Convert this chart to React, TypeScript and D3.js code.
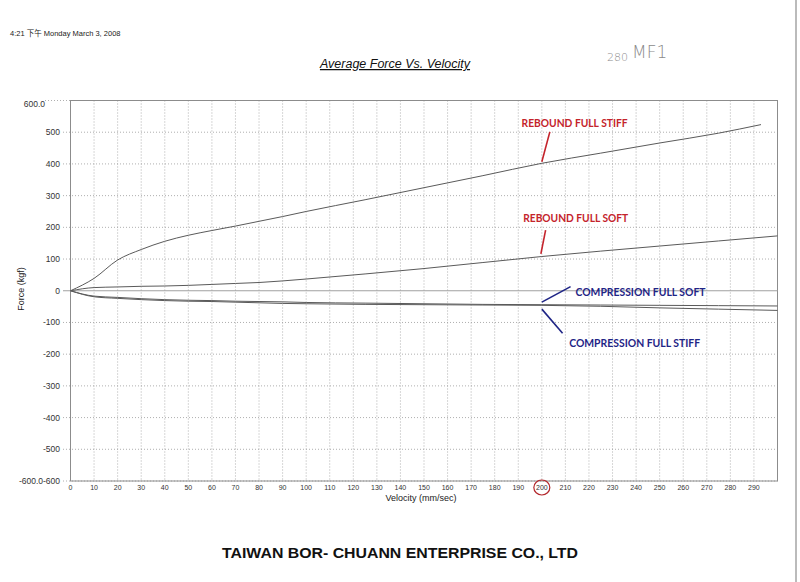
import React, { useEffect, useRef } from 'react';
import * as d3 from 'd3';

// velocity (mm/sec) sample points
const velocity = [0, 10, 20, 30, 40, 50, 60, 70, 80, 90, 100, 125, 150, 175, 200, 225, 250, 275, 300];
const velocityStiffRebound = [0, 10, 20, 30, 40, 50, 60, 70, 80, 90, 100, 125, 150, 175, 200, 225, 250, 275, 293];

// force (kgf)
const reboundFullStiff = [0, 39, 97, 130, 156, 175, 190, 204, 219, 234, 250, 287, 325, 363, 402, 434, 466, 497, 524];
const reboundFullSoft = [0, 10, 12, 14, 15, 17, 20, 23, 26, 31, 37, 53, 70, 89, 108, 125, 141, 157, 173];
const compressionFullSoft = [0, -17, -21, -25, -28, -30, -31, -33, -34, -35, -37, -39, -41, -43, -44, -45, -46, -47, -48];
const compressionFullStiff = [0, -19, -24, -28, -31, -33, -34, -36, -38, -40, -41, -43, -44, -45, -46, -49, -54, -58, -62];

const xTicks = d3.range(0, 300, 10);
const yTicks = [-500, -400, -300, -200, -100, 0, 100, 200, 300, 400, 500];

const RED = '#c4232b';
const BLUE = '#1f2586';

// annotation labels, in data units
const annotations = [
  { text: 'REBOUND FULL STIFF', color: RED, tx: 191.4, ty: 518, len: 106, line: [[200, 407], [203.4, 501]] },
  { text: 'REBOUND FULL SOFT', color: RED, tx: 192.1, ty: 218, len: 105, line: [[199.6, 116], [201.6, 191]] },
  { text: 'COMPRESSION FULL SOFT', color: BLUE, tx: 214.3, ty: -17.5, len: 130, line: [[200, -36], [212.2, 13]] },
  { text: 'COMPRESSION FULL STIFF', color: BLUE, tx: 211.6, ty: -176, len: 131, line: [[200, -58], [208.8, -134]] },
];

const App: React.FC = () => {
  const svgRef = useRef<SVGSVGElement>(null);

  useEffect(() => {
    if (!svgRef.current) return;
    const svg = d3.select(svgRef.current);
    svg.selectAll('*').remove();

    const width = 800;
    const height = 582;
    const x = d3.scaleLinear().domain([0, 300]).range([70.5, 777.5]);
    const y = d3.scaleLinear().domain([-600, 600]).range([481, 100.5]);

    svg.append('rect').attr('width', width).attr('height', height).attr('fill', '#fff');

    // 扫描边缘
    svg.append('line')
      .attr('x1', 796).attr('x2', 796).attr('y1', 0).attr('y2', height)
      .attr('stroke', '#bbb').attr('stroke-width', 2);

    // header
    svg.append('text')
      .attr('x', 10).attr('y', 36)
      .attr('font-family', 'Liberation Sans, "Noto Sans CJK SC", sans-serif')
      .attr('font-size', 7.5)
      .attr('fill', '#222')
      .text('4:21 下午 Monday March 3, 2008');

    svg.append('text')
      .attr('x', 395).attr('y', 68)
      .attr('text-anchor', 'middle')
      .attr('font-family', 'Liberation Sans, Arial, sans-serif')
      .attr('font-size', 12.5)
      .attr('font-style', 'italic')
      .attr('text-decoration', 'underline')
      .attr('fill', '#111')
      .text('Average Force Vs. Velocity');

    const hand = svg.append('text')
      .attr('x', 607).attr('y', 61)
      .attr('font-family', 'DejaVu Sans, sans-serif')
      .attr('font-weight', 200)
      .attr('fill', '#8a8a8a');
    hand.append('tspan').attr('font-size', 11).text('280');
    hand.append('tspan').attr('font-size', 17).attr('dx', 4).attr('dy', -3).text('MF1');

    // grid
    const grid = svg.append('g').attr('stroke', '#9a9a9a').attr('stroke-width', 0.8).attr('stroke-dasharray', '1,2');
    grid.selectAll('line.v')
      .data(xTicks.filter(d => d > 0))
      .enter().append('line')
      .attr('x1', d => x(d)).attr('x2', d => x(d))
      .attr('y1', y(600)).attr('y2', y(-600));
    grid.selectAll('line.h')
      .data(yTicks.filter(d => d !== 0).concat([600, -600]))
      .enter().append('line')
      .attr('x1', d => (d === 600 ? 45 : 63)).attr('x2', x(300))
      .attr('y1', d => y(d)).attr('y2', d => y(d));

    // frame + zero line
    const frame = svg.append('g').attr('stroke', '#8c8c8c').attr('stroke-width', 1).attr('fill', 'none');
    frame.append('rect')
      .attr('x', x(0)).attr('y', y(600))
      .attr('width', x(300) - x(0)).attr('height', y(-600) - y(600));
    frame.append('line')
      .attr('x1', 63).attr('x2', x(300)).attr('y1', y(0)).attr('y2', y(0))
      .attr('stroke', '#a0a0a0');

    // y tick labels
    const labelFont = 'Liberation Sans, Arial, sans-serif';
    svg.append('g').selectAll('text')
      .data(yTicks)
      .enter().append('text')
      .attr('x', 60).attr('y', d => y(d))
      .attr('dy', '0.35em')
      .attr('text-anchor', 'end')
      .attr('font-family', labelFont)
      .attr('font-size', 8.5)
      .attr('fill', '#333')
      .text(d => String(d));
    svg.append('text')
      .attr('x', 45).attr('y', y(600) + 4)
      .attr('dy', '0.35em').attr('text-anchor', 'end')
      .attr('font-family', labelFont).attr('font-size', 8.5).attr('fill', '#333')
      .text('600.0');
    svg.append('text')
      .attr('x', 60).attr('y', y(-600))
      .attr('dy', '0.35em').attr('text-anchor', 'end')
      .attr('font-family', labelFont).attr('font-size', 8.5).attr('fill', '#333')
      .text('-600.0-600');

    // x tick labels
    svg.append('g').selectAll('text')
      .data(xTicks)
      .enter().append('text')
      .attr('x', d => x(d)).attr('y', 490)
      .attr('text-anchor', 'middle')
      .attr('font-family', labelFont)
      .attr('font-size', 7)
      .attr('fill', '#333')
      .text(d => String(d));

    // 200 circled
    svg.append('ellipse')
      .attr('cx', x(200)).attr('cy', 487.5)
      .attr('rx', 8).attr('ry', 7.5)
      .attr('fill', 'none').attr('stroke', '#b3262b').attr('stroke-width', 1.2);

    // axis titles
    svg.append('text')
      .attr('x', 421).attr('y', 501)
      .attr('text-anchor', 'middle')
      .attr('font-family', labelFont).attr('font-size', 9).attr('fill', '#222')
      .text('Velocity (mm/sec)');
    svg.append('text')
      .attr('transform', `translate(24, ${289}) rotate(-90)`)
      .attr('text-anchor', 'middle')
      .attr('font-family', labelFont).attr('font-size', 9).attr('fill', '#222')
      .text('Force (kgf)');

    // curves
    const series = [
      { vx: velocityStiffRebound, vy: reboundFullStiff },
      { vx: velocity, vy: reboundFullSoft },
      { vx: velocity, vy: compressionFullSoft },
      { vx: velocity, vy: compressionFullStiff },
    ];
    const line = d3.line<[number, number]>()
      .x(d => x(d[0]))
      .y(d => y(d[1]))
      .curve(d3.curveMonotoneX);
    series.forEach(s => {
      svg.append('path')
        .datum(s.vx.map((v, i) => [v, s.vy[i]] as [number, number]))
        .attr('d', line)
        .attr('fill', 'none')
        .attr('stroke', '#5a5a5a')
        .attr('stroke-width', 1);
    });

    // annotations
    annotations.forEach(a => {
      svg.append('line')
        .attr('x1', x(a.line[0][0])).attr('y1', y(a.line[0][1]))
        .attr('x2', x(a.line[1][0])).attr('y2', y(a.line[1][1]))
        .attr('stroke', a.color).attr('stroke-width', 1.6);
      svg.append('text')
        .attr('x', x(a.tx)).attr('y', y(a.ty))
        .attr('font-family', 'Lato, "Open Sans", sans-serif')
        .attr('font-weight', 700)
        .attr('font-size', 10.5)
        .attr('textLength', a.len)
        .attr('lengthAdjust', 'spacingAndGlyphs')
        .attr('fill', a.color)
        .text(a.text);
    });

    // footer
    svg.append('text')
      .attr('x', 400).attr('y', 558)
      .attr('text-anchor', 'middle')
      .attr('font-family', labelFont)
      .attr('font-weight', 700)
      .attr('font-size', 15)
      .attr('textLength', 356)
      .attr('lengthAdjust', 'spacingAndGlyphs')
      .attr('fill', '#111')
      .text('TAIWAN BOR- CHUANN ENTERPRISE CO., LTD');
  }, []);

  return (
    <div style={{ position: 'absolute', left: 0, top: 0, width: 800, height: 582 }}>
      <svg ref={svgRef} width={800} height={582} style={{ display: 'block' }} />
    </div>
  );
};

export default App;
